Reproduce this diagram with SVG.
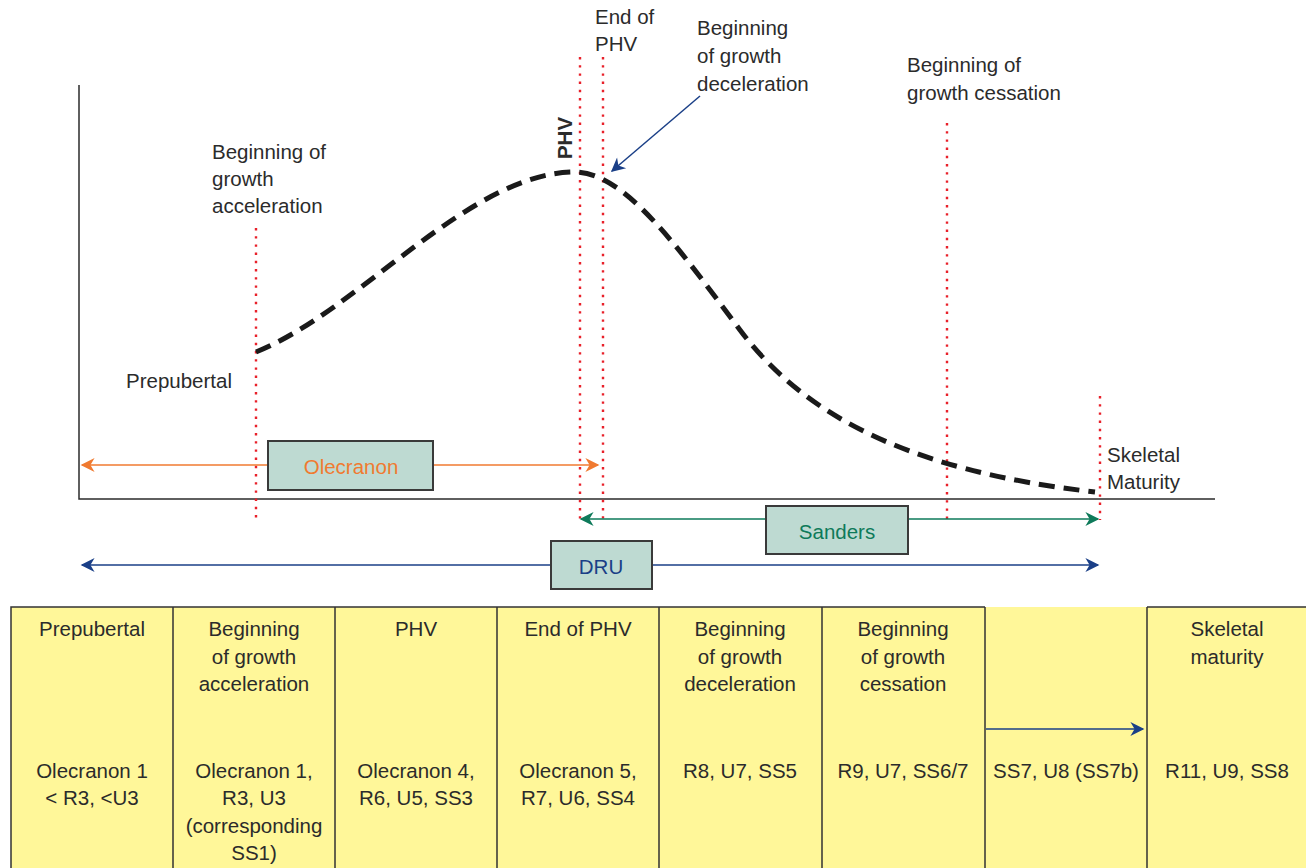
<svg xmlns="http://www.w3.org/2000/svg" width="1306" height="868" viewBox="0 0 1306 868">
<style>
text{font-family:"Liberation Sans",Arial,sans-serif;font-size:20.5px;fill:#2b2b2b}
.c{text-anchor:middle}
.dot{stroke:#e8202a;stroke-width:2.4;stroke-dasharray:2.4 5.8;fill:none}
.box{fill:#bedad2;stroke:#3a3a3a;stroke-width:2}
</style>
<defs>
<marker id="aO" viewBox="0 0 10 10" refX="9" refY="5" markerWidth="16" markerHeight="14" markerUnits="userSpaceOnUse" orient="auto-start-reverse"><path d="M0,0 L10,5 L0,10 L3,5 Z" fill="#f07a30"/></marker>
<marker id="aG" viewBox="0 0 10 10" refX="9" refY="5" markerWidth="16" markerHeight="14" markerUnits="userSpaceOnUse" orient="auto-start-reverse"><path d="M0,0 L10,5 L0,10 L3,5 Z" fill="#0e7a5a"/></marker>
<marker id="aB" viewBox="0 0 10 10" refX="9" refY="5" markerWidth="16" markerHeight="14" markerUnits="userSpaceOnUse" orient="auto-start-reverse"><path d="M0,0 L10,5 L0,10 L3,5 Z" fill="#1a3f87"/></marker>
</defs>
<rect width="1306" height="868" fill="#fff"/>
<g id="axes" stroke="#2b2b2b" stroke-width="1.5" fill="none">
<path d="M79,85 V499 H1215"/>
</g>
<g id="guides">
<line class="dot" x1="256" y1="228" x2="256" y2="520"/>
<line class="dot" x1="580" y1="57" x2="580" y2="520"/>
<line class="dot" x1="603" y1="57" x2="603" y2="520"/>
<line class="dot" x1="947" y1="123" x2="947" y2="520"/>
<line class="dot" x1="1100" y1="396" x2="1100" y2="520"/>
</g>
<g id="curve">
<path d="M256,352 C360,310 470,172 575,172 C625,172 680,250 740,330 C800,410 900,470 1095,492" fill="none" stroke="#1a1a1a" stroke-width="5" stroke-dasharray="16 9"/>
</g>
<g id="labels">
<text x="212" y="159">Beginning of</text>
<text x="212" y="186">growth</text>
<text x="212" y="213">acceleration</text>
<text x="126" y="388">Prepubertal</text>
<text transform="translate(572,138) rotate(-90)" class="c" style="font-weight:bold">PHV</text>
<text x="595" y="24">End of</text>
<text x="595" y="51">PHV</text>
<text x="697" y="35">Beginning</text>
<text x="697" y="63">of growth</text>
<text x="697" y="91">deceleration</text>
<text x="907" y="72">Beginning of</text>
<text x="907" y="100">growth cessation</text>
<text x="1107" y="462">Skeletal</text>
<text x="1107" y="489">Maturity</text>
</g>
<g id="table">
<rect x="11" y="607" width="1295" height="262" fill="#fff799"/>
<g stroke="#333" stroke-width="1.5" fill="none">
<path d="M11,869 V607 H985 M1147,607 H1306"/>
<path d="M173,607 V869 M335,607 V869 M497,607 V869 M659,607 V869 M822,607 V869 M985,607 V869 M1147,607 V869"/>
</g>
</g>
<g id="connectors" fill="none" stroke-width="1.5">
<line x1="700" y1="96" x2="612" y2="171" stroke="#1a3f87" marker-end="url(#aB)"/>
<line x1="82" y1="465" x2="598" y2="465" stroke="#f07a30" marker-start="url(#aO)" marker-end="url(#aO)"/>
<line x1="581" y1="519" x2="1098" y2="519" stroke="#0e7a5a" marker-start="url(#aG)" marker-end="url(#aG)"/>
<line x1="82" y1="565" x2="1098" y2="565" stroke="#1a3f87" marker-start="url(#aB)" marker-end="url(#aB)"/>
<line x1="986" y1="729" x2="1143" y2="729" stroke="#1a3f87" marker-end="url(#aB)"/>
</g>
<g id="olecranon">
<rect class="box" x="268" y="441" width="165" height="49"/>
<text x="351" y="474" class="c" style="fill:#f07a30">Olecranon</text>
</g>
<g id="sanders">
<rect class="box" x="766" y="506" width="142" height="48"/>
<text x="837" y="539" class="c" style="fill:#0e7a5a">Sanders</text>
</g>
<g id="dru">
<rect class="box" x="551" y="541" width="101" height="48"/>
<text x="601" y="574" class="c" style="fill:#1a3f87">DRU</text>
</g>
<g id="col1">
<text x="92" y="636" class="c">Prepubertal</text>
<text x="92" y="778" class="c">Olecranon 1</text>
<text x="92" y="805" class="c">&lt; R3, &lt;U3</text>
</g>
<g id="col2">
<text x="254" y="636" class="c">Beginning</text>
<text x="254" y="664" class="c">of growth</text>
<text x="254" y="691" class="c">acceleration</text>
<text x="254" y="778" class="c">Olecranon 1,</text>
<text x="254" y="805" class="c">R3, U3</text>
<text x="254" y="833" class="c">(corresponding</text>
<text x="254" y="860" class="c">SS1)</text>
</g>
<g id="col3">
<text x="416" y="636" class="c">PHV</text>
<text x="416" y="778" class="c">Olecranon 4,</text>
<text x="416" y="805" class="c">R6, U5, SS3</text>
</g>
<g id="col4">
<text x="578" y="636" class="c">End of PHV</text>
<text x="578" y="778" class="c">Olecranon 5,</text>
<text x="578" y="805" class="c">R7, U6, SS4</text>
</g>
<g id="col5">
<text x="740" y="636" class="c">Beginning</text>
<text x="740" y="664" class="c">of growth</text>
<text x="740" y="691" class="c">deceleration</text>
<text x="740" y="778" class="c">R8, U7, SS5</text>
</g>
<g id="col6">
<text x="903" y="636" class="c">Beginning</text>
<text x="903" y="664" class="c">of growth</text>
<text x="903" y="691" class="c">cessation</text>
<text x="903" y="778" class="c">R9, U7, SS6/7</text>
</g>
<g id="col7">
<text x="1066" y="778" class="c">SS7, U8 (SS7b)</text>
</g>
<g id="col8">
<text x="1227" y="636" class="c">Skeletal</text>
<text x="1227" y="664" class="c">maturity</text>
<text x="1227" y="778" class="c">R11, U9, SS8</text>
</g>
</svg>
